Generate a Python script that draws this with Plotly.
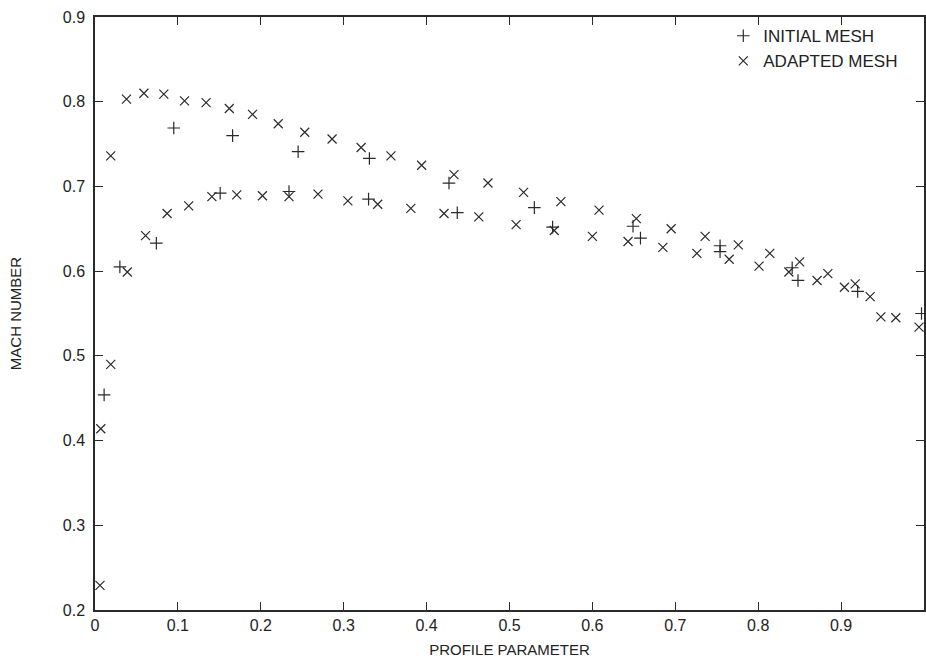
import plotly.graph_objects as go

# INITIAL MESH (+)
init_x = [0.011, 0.030, 0.074, 0.095, 0.151, 0.166, 0.234, 0.245, 0.330, 0.331,
          0.427, 0.437, 0.530, 0.552, 0.649, 0.658, 0.754, 0.754, 0.841, 0.848,
          0.920, 0.997]
init_y = [0.454, 0.605, 0.633, 0.769, 0.692, 0.760, 0.694, 0.741, 0.685, 0.733,
          0.704, 0.669, 0.675, 0.652, 0.653, 0.639, 0.630, 0.623, 0.604, 0.589,
          0.576, 0.550]

# ADAPTED MESH (x)
adapt_x = [0.006, 0.007, 0.019, 0.019, 0.038, 0.059, 0.083, 0.108, 0.134, 0.162,
           0.190, 0.221, 0.253, 0.286, 0.321, 0.357, 0.394, 0.433, 0.474, 0.517,
           0.562, 0.608, 0.653, 0.695, 0.736, 0.776, 0.814, 0.850, 0.884, 0.917,
           0.039, 0.061, 0.087, 0.113, 0.141, 0.171, 0.202, 0.234, 0.269, 0.305,
           0.341, 0.381, 0.421, 0.463, 0.508, 0.554, 0.600, 0.643, 0.685, 0.726,
           0.765, 0.801, 0.837, 0.871, 0.904, 0.935, 0.948, 0.966, 0.994]
adapt_y = [0.229, 0.414, 0.490, 0.736, 0.803, 0.810, 0.809, 0.801, 0.799, 0.792,
           0.785, 0.774, 0.764, 0.756, 0.746, 0.736, 0.725, 0.714, 0.704, 0.693,
           0.682, 0.672, 0.662, 0.650, 0.641, 0.631, 0.621, 0.611, 0.597, 0.585,
           0.599, 0.642, 0.668, 0.677, 0.688, 0.690, 0.689, 0.688, 0.691, 0.683,
           0.679, 0.674, 0.668, 0.664, 0.655, 0.648, 0.641, 0.635, 0.628, 0.621,
           0.614, 0.606, 0.599, 0.589, 0.581, 0.570, 0.546, 0.545, 0.534]

x_ticks = [0, 0.1, 0.2, 0.3, 0.4, 0.5, 0.6, 0.7, 0.8, 0.9, 1]
x_labels = ["0", "0.1", "0.2", "0.3", "0.4", "0.5", "0.6", "0.7", "0.8", "0.9", "1"]
y_ticks = [0.2, 0.3, 0.4, 0.5, 0.6, 0.7, 0.8, 0.9]
y_labels = ["0.2", "0.3", "0.4", "0.5", "0.6", "0.7", "0.8", "0.9"]

FONT = "Liberation Sans, Arial, sans-serif"
INK = "#2a2a2a"

fig = go.Figure()
fig.add_trace(go.Scatter(
    x=init_x, y=init_y, mode="markers", name="INITIAL MESH",
    marker=dict(symbol="cross-thin-open", size=9, line=dict(width=1.2, color=INK), color=INK),
    cliponaxis=False,
))
fig.add_trace(go.Scatter(
    x=adapt_x, y=adapt_y, mode="markers", name="ADAPTED MESH",
    marker=dict(symbol="x-thin-open", size=9, line=dict(width=1.2, color=INK), color=INK),
    cliponaxis=False,
))

axis_common = dict(
    showgrid=False, zeroline=False, showline=True, linecolor=INK, linewidth=1.5,
    mirror="ticks", ticks="inside", ticklen=8, tickwidth=1, tickcolor=INK,
    tickfont=dict(family=FONT, size=16, color="#222"),
)

fig.update_xaxes(
    range=[0, 1], tickvals=x_ticks, ticktext=x_labels,
    title=dict(text="PROFILE PARAMETER", font=dict(family=FONT, size=15, color="#222"), standoff=12),
    **axis_common,
)
fig.update_yaxes(
    range=[0.2, 0.9], tickvals=y_ticks, ticktext=y_labels, ticklabelstandoff=5,
    title=dict(text="MACH NUMBER", font=dict(family=FONT, size=15, color="#222"), standoff=38),
    **axis_common,
)

fig.update_layout(
    width=926, height=664,
    margin=dict(l=95, r=2, t=17, b=54, autoexpand=False),
    paper_bgcolor="white", plot_bgcolor="white",
    font=dict(family=FONT, color="#222"),
    legend=dict(
        x=0.975, y=0.998, xanchor="right", yanchor="top",
        bgcolor="rgba(0,0,0,0)", borderwidth=0,
        font=dict(family=FONT, size=17, color="#222"),
        itemwidth=30, tracegroupgap=0,
    ),
    showlegend=True,
)

fig.write_html("out.html", config={"displayModeBar": False},
               post_script="document.body.style.margin='0';")
